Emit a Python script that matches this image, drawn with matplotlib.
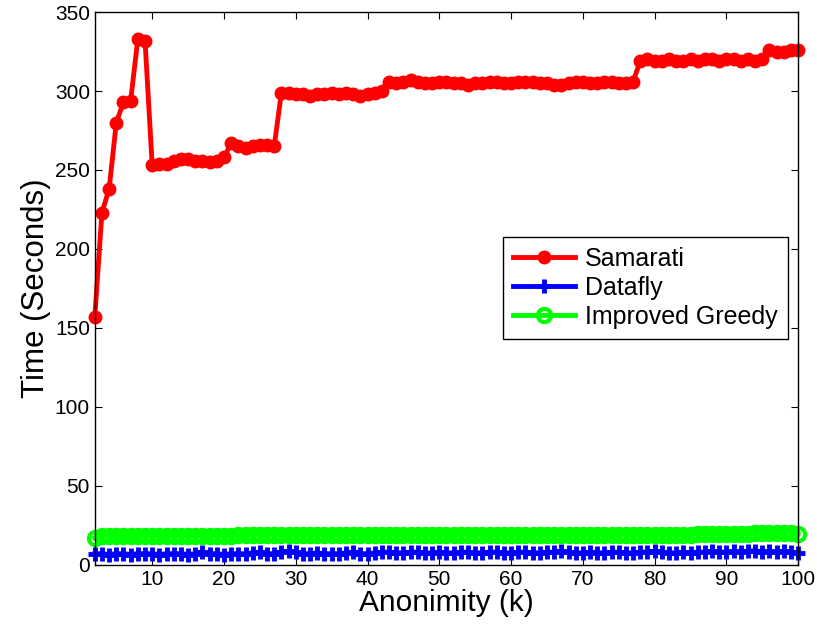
import numpy as np
import matplotlib
matplotlib.use('Agg')
import matplotlib.pyplot as plt

plt.rcParams['font.family'] = ['Liberation Sans', 'DejaVu Sans']

k = list(range(2, 101))

samarati = [157, 223, 238, 280, 293, 294, 333, 332, 253, 254,
            254, 256, 257, 257, 256, 256, 255, 256, 258, 267,
            265, 264, 265, 266, 266, 265,
            299, 299, 298, 298, 297, 298, 298, 299, 298, 299, 298, 297, 298, 299, 300,
            306, 305, 306, 307, 306, 305, 305, 306, 306, 305,
            305, 304, 305, 305, 306, 306, 305, 305, 306, 306,
            306, 305, 305, 304, 304, 305, 306, 306, 305, 305,
            306, 306, 305, 305, 306,
            319, 320, 319, 319, 320, 319, 319, 320, 319, 320,
            320, 319, 320, 320, 319, 320, 319, 320,
            326, 325, 325, 326, 326]

datafly = [7, 7, 6.5, 7, 7, 6.5, 7, 7, 7, 6.5,
           7, 7, 7, 6.5, 7, 8, 7, 7, 6.5, 7,
           7, 7, 7.5, 8, 7, 7, 8, 8.5, 8, 7,
           7, 7.5, 7, 7, 7, 7.5, 8, 7, 7, 7.5,
           8, 8, 7.5, 7.5, 8, 8, 7.5, 7.5, 8, 7.5,
           7.5, 8, 8, 7.5, 7.5, 8, 8, 7.5, 7.5, 8,
           8, 7.5, 7.5, 8, 8, 8.5, 8, 7.5, 7.5, 8,
           7.5, 7.5, 8, 8, 7.5, 7.5, 8, 8, 8.5, 8,
           7.5, 7.5, 8, 7.5, 8, 8, 8.5, 8, 8, 8.5,
           8, 8.5, 9, 8, 8.5, 8, 8.5, 8, 7.5]

greedy = [17, 18, 18.5, 18, 18, 18, 18, 18.5, 18.5, 18.5,
          18.5, 18.5, 18.5, 18.5, 18.5, 18.5, 18.5, 18.5, 18.5, 18.5,
          19, 19, 19, 19, 19, 19, 19, 19, 19, 19,
          19, 19, 19, 19, 19, 19, 19, 19, 19, 19,
          19, 19, 19, 19, 19, 19, 19, 19, 19, 19,
          19, 19, 19, 19, 19, 19, 19, 19, 19, 19,
          19, 19, 19, 19, 19, 19, 19, 19, 19, 19,
          19, 19, 19, 19, 19, 19, 19, 19, 19, 19,
          19, 19, 19, 19, 19.5, 19.5, 19.5, 19.5, 19.5, 19.5,
          19.5, 19.5, 20, 20, 20, 20, 20, 20, 19.5]

fig = plt.figure(figsize=(8.17, 6.36), dpi=100)
ax = fig.add_axes([0.116, 0.112, 0.861, 0.869])

ax.plot(k, samarati, color='red', lw=3.5, marker='o', ms=9, clip_on=False,
        label='Samarati', zorder=3)
ax.plot(k, datafly, color='blue', lw=3.5, marker='+', ms=10, mew=3.5,
        clip_on=False, label='Datafly', zorder=3)
ax.plot(k, greedy, color='#00ff00', lw=3.5, marker='o', ms=9.5, mew=3,
        mfc='none', clip_on=False, label='Improved Greedy', zorder=3)

ax.set_xlim(2, 100)
ax.set_ylim(0, 350)
ax.set_xticks(range(10, 101, 10))
ax.set_yticks(range(0, 351, 50))
ax.tick_params(direction='in', top=True, right=True, labelsize=15, length=5)
for s in ax.spines.values():
    s.set_linewidth(1)
    s.set_zorder(4)

ax.set_xlabel('Anonimity (k)', fontsize=21.5, labelpad=0)
ax.set_ylabel('Time (Seconds)', fontsize=22.5, labelpad=3)

leg = ax.legend(loc='upper right', bbox_to_anchor=(0.985, 0.593), borderaxespad=0,
                fontsize=18, fancybox=False, edgecolor='black', framealpha=1,
                handlelength=2.5, handletextpad=0.4, labelspacing=0.2,
                borderpad=0.4)
leg.get_frame().set_linewidth(1)

fig.savefig('out.png', dpi=100)
